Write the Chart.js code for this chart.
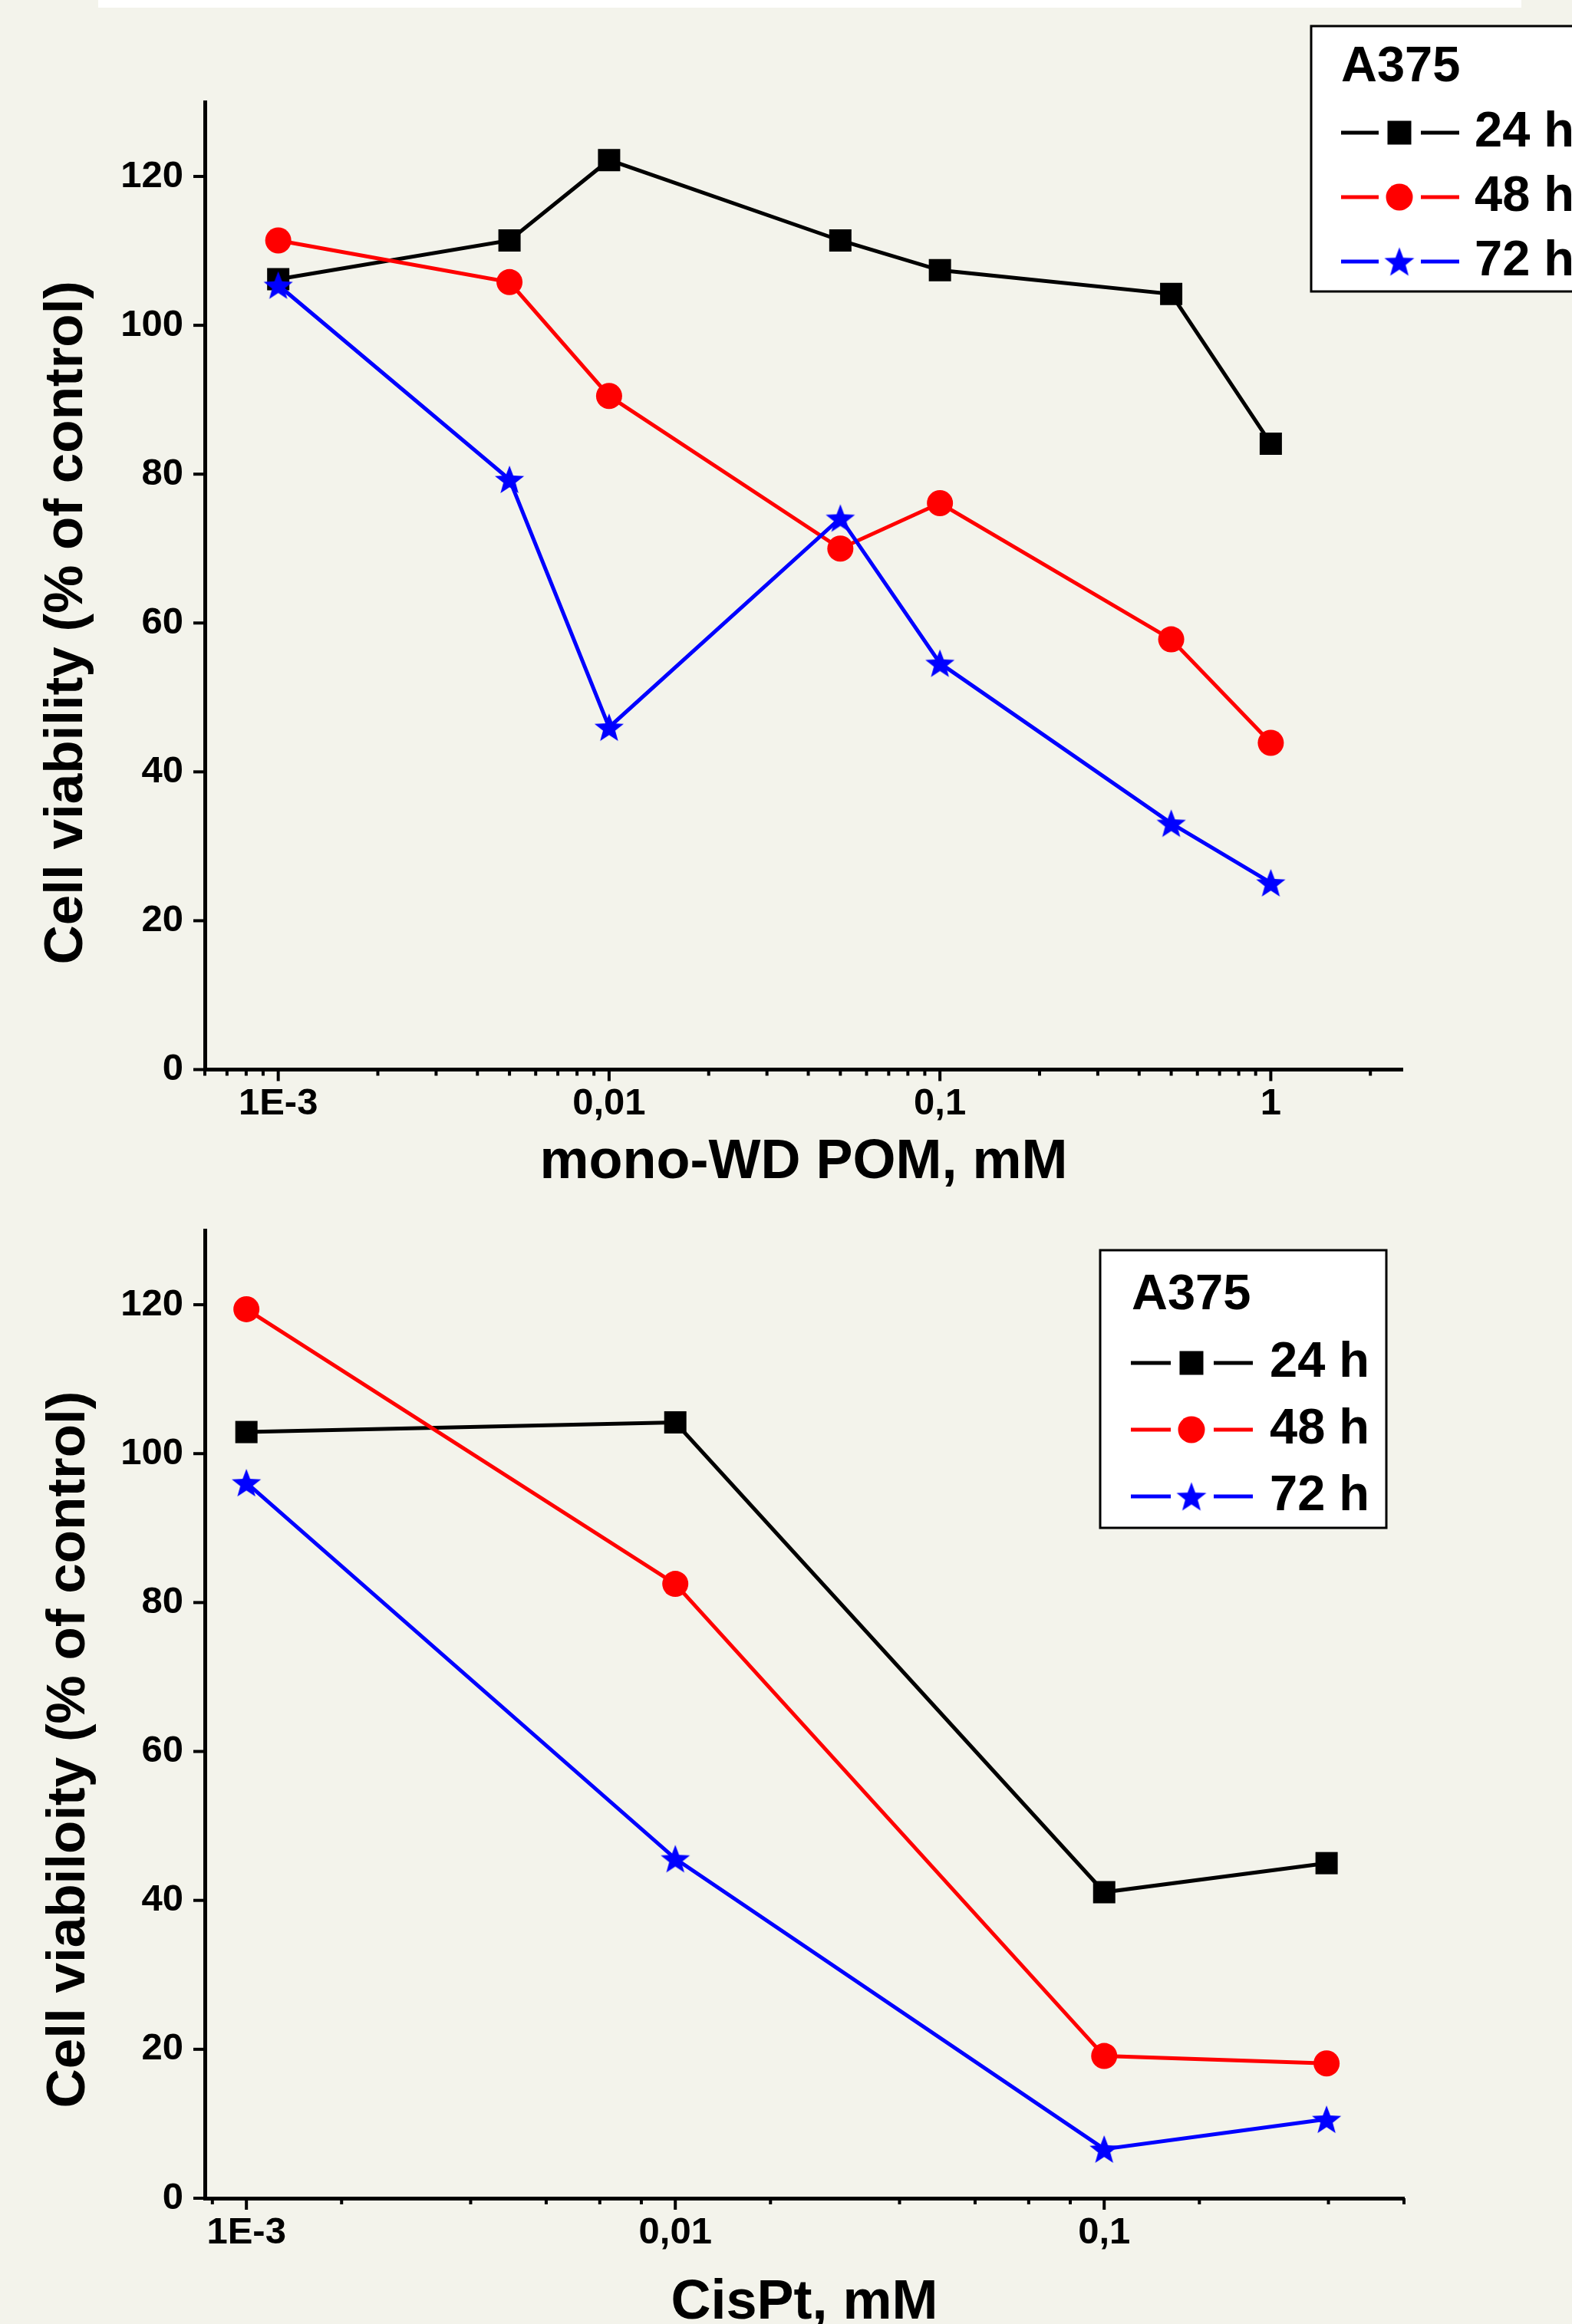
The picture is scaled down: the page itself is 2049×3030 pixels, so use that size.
<!DOCTYPE html>
<html>
<head>
<meta charset="utf-8">
<script src="https://cdn.jsdelivr.net/npm/chart.js@4.4.1/dist/chart.umd.min.js"></script>
<style>
html,body{margin:0;padding:0;background:#f3f3eb;width:2049px;height:3030px;overflow:hidden;}
#band{position:absolute;left:128px;top:0;width:1855px;height:10px;background:#ffffff;}
#c1{position:absolute;left:0;top:0;}
#c2{position:absolute;left:0;top:1500px;}
</style>
</head>
<body>
<div id="band"></div>
<canvas id="c1" width="2049" height="1580"></canvas>
<canvas id="c2" width="2049" height="1600"></canvas>
<script>
// ---------- data ----------
const pomConc = [0.001, 0.005, 0.01, 0.05, 0.1, 0.5, 1];
const pom24h  = [106.2, 111.4, 122.2, 111.4, 107.4, 104.2, 84.1];
const pom48h  = [111.4, 105.8, 90.5, 70.0, 76.1, 57.8, 43.9];
const pom72h  = [105.4, 79.3, 46.0, 74.1, 54.6, 33.1, 25.1];

const cisConc = [0.001, 0.01, 0.1, 0.33];
const cis24h  = [102.9, 104.2, 41.1, 45.0];
const cis48h  = [119.4, 82.5, 19.1, 18.1];
const cis72h  = [96.1, 45.6, 6.6, 10.6];

const seriesLabels = ['24 h', '48 h', '72 h'];
const legendTitle = 'A375';

const yTickValues = [0, 20, 40, 60, 80, 100, 120];

const pomMajorTicks  = [0.001, 0.01, 0.1, 1];
const pomMajorLabels = ['1E-3', '0,01', '0,1', '1'];
const pomMinorTicks  = [0.0006, 0.0007, 0.0008, 0.0009,
  0.002, 0.003, 0.004, 0.005, 0.006, 0.007, 0.008, 0.009,
  0.02, 0.03, 0.04, 0.05, 0.06, 0.07, 0.08, 0.09,
  0.2, 0.3, 0.4, 0.5, 0.6, 0.7, 0.8, 0.9, 2];

const cisMajorTicks  = [0.001, 0.01, 0.1];
const cisMajorLabels = ['1E-3', '0,01', '0,1'];
const cisMinorTicks  = [0.000833, 0.001667, 0.003333, 0.005, 0.006667, 0.008333,
  0.01667, 0.03333, 0.05, 0.06667, 0.08333, 0.1667, 0.3333, 0.5];

// ---------- styling helpers ----------
const FAMILY = "'Liberation Sans', Arial, Helvetica, sans-serif";

function makeStar(size, color) {
  const c = document.createElement('canvas');
  c.width = size; c.height = size;
  const g = c.getContext('2d');
  const R = size / 2, r = R * 0.42;
  const cx = size / 2, cy = size / 2 + R * 0.0955;
  g.beginPath();
  for (let i = 0; i < 10; i++) {
    const a = -Math.PI / 2 + i * Math.PI / 5;
    const rr = (i % 2 === 0) ? R : r;
    const px = cx + rr * Math.cos(a), py = cy + rr * Math.sin(a);
    if (i === 0) g.moveTo(px, py); else g.lineTo(px, py);
  }
  g.closePath();
  g.fillStyle = color;
  g.fill();
  return c;
}
const starPlot = makeStar(40, '#0000ff');
const starLegend = makeStar(41, '#0000ff');

function drawMarker(ctx, kind, x, y, color) {
  ctx.fillStyle = color;
  if (kind === 'rect') {
    ctx.fillRect(x - 15.5, y - 15.5, 31, 31);
  } else if (kind === 'circle') {
    ctx.beginPath(); ctx.arc(x, y, 17.5, 0, Math.PI * 2); ctx.fill();
  } else {
    ctx.drawImage(starLegend, x - starLegend.width / 2, y - starLegend.height / 2);
  }
}

const boxLegend = {
  id: 'boxLegend',
  afterDraw(chart, args, o) {
    const ctx = chart.ctx;
    ctx.save();
    ctx.fillStyle = '#ffffff';
    ctx.fillRect(o.x, o.y, o.w, o.h);
    ctx.lineWidth = 3; ctx.strokeStyle = '#000';
    ctx.strokeRect(o.x, o.y, o.w, o.h);
    ctx.font = 'bold 65px ' + FAMILY;
    ctx.textBaseline = 'middle'; ctx.textAlign = 'left';
    ctx.fillStyle = '#000';
    ctx.fillText(o.title, o.x + o.titleDx, o.y + o.titleDy);
    chart.data.datasets.forEach((ds, i) => {
      const cy = o.y + o.rowDy[i];
      ctx.strokeStyle = ds.borderColor; ctx.lineWidth = 5; ctx.lineCap = 'butt';
      ctx.beginPath();
      ctx.moveTo(o.x + o.line1[0], cy); ctx.lineTo(o.x + o.line1[1], cy);
      ctx.moveTo(o.x + o.line2[0], cy); ctx.lineTo(o.x + o.line2[1], cy);
      ctx.stroke();
      drawMarker(ctx, ds.legendMarker, o.x + o.markDx, cy, ds.borderColor);
      ctx.fillStyle = '#000';
      ctx.fillText(ds.label, o.x + o.textDx, cy);
    });
    ctx.restore();
  }
};

const tickMarks = {
  id: 'tickMarks',
  afterDraw(chart) {
    const ctx = chart.ctx, xs = chart.scales.x, ys = chart.scales.y;
    ctx.save();
    ctx.strokeStyle = '#000'; ctx.lineWidth = 4; ctx.lineCap = 'butt';
    xs.ticks.forEach(t => {
      const px = xs.getPixelForValue(t.value);
      const len = t.isMajor ? 15 : 8;
      ctx.beginPath(); ctx.moveTo(px, xs.top); ctx.lineTo(px, xs.top + len); ctx.stroke();
    });
    ys.ticks.forEach(t => {
      const py = ys.getPixelForValue(t.value);
      ctx.beginPath(); ctx.moveTo(ys.right, py); ctx.lineTo(ys.right - 15, py); ctx.stroke();
    });
    ctx.restore();
  }
};

const yTitle = {
  id: 'yTitle',
  afterDraw(chart, args, o) {
    const ctx = chart.ctx, a = chart.chartArea;
    ctx.save();
    ctx.translate(o.x, (a.top + a.bottom) / 2 + o.dy);
    ctx.rotate(-Math.PI / 2);
    ctx.font = 'bold 71px ' + FAMILY;
    ctx.fillStyle = '#000';
    ctx.textAlign = 'center'; ctx.textBaseline = 'alphabetic';
    ctx.fillText(o.text, 0, 0);
    ctx.restore();
  }
};

function sameVal(a, b) { return Math.abs(Math.log10(a) - Math.log10(b)) < 1e-6; }

function makeDatasets(conc, s24, s48, s72) {
  const pts = arr => conc.map((x, i) => ({ x: x, y: arr[i] }));
  return [
    { label: seriesLabels[0], data: pts(s24), borderColor: '#000000', backgroundColor: '#000000',
      borderWidth: 5, pointStyle: 'rect', pointRadius: 20.5, pointBorderWidth: 0, order: 3, legendMarker: 'rect' },
    { label: seriesLabels[1], data: pts(s48), borderColor: '#ff0000', backgroundColor: '#ff0000',
      borderWidth: 5, pointStyle: 'circle', pointRadius: 17, pointBorderWidth: 0, order: 2, legendMarker: 'circle' },
    { label: seriesLabels[2], data: pts(s72), borderColor: '#0000ff', backgroundColor: '#0000ff',
      borderWidth: 5, pointStyle: starPlot, pointRadius: 20, pointBorderWidth: 0, order: 1, legendMarker: 'star' }
  ];
}

function makeConfig(p) {
  return {
    type: 'line',
    data: { datasets: makeDatasets(p.conc, p.s24, p.s48, p.s72) },
    options: {
      responsive: false, animation: false, devicePixelRatio: 1, events: [],
      layout: { padding: p.padding },
      elements: { line: { tension: 0 } },
      plugins: {
        legend: { display: false }, tooltip: { enabled: false },
        boxLegend: p.legend,
        yTitle: p.yTitle
      },
      scales: {
        x: {
          type: 'logarithmic', min: p.xmin, max: p.xmax,
          afterBuildTicks: s => {
            const t = p.major.map(v => ({ value: v, isMajor: true }))
              .concat(p.minor.map(v => ({ value: v, isMajor: false })));
            t.sort((a, b) => a.value - b.value);
            s.ticks = t;
          },
          afterFit: s => { s.height = p.xHeight; },
          grid: { display: true, drawOnChartArea: false, drawTicks: false },
          border: { display: true, color: '#000', width: 5 },
          ticks: {
            autoSkip: false, maxRotation: 0, minRotation: 0, padding: 16, color: '#000',
            font: { family: FAMILY, size: 49, weight: 'bold', lineHeight: 1.2 },
            callback: v => {
              const i = p.major.findIndex(m => sameVal(m, v));
              return i >= 0 ? p.majorLabels[i] : '';
            }
          },
          title: { display: true, text: p.xTitle, color: '#000',
            font: { family: FAMILY, size: 72, weight: 'bold', lineHeight: 1.2 },
            padding: { top: 0, bottom: p.xTitlePad } }
        },
        y: {
          type: 'linear', min: 0, max: 130,
          afterBuildTicks: s => { s.ticks = yTickValues.map(v => ({ value: v })); },
          afterFit: s => { s.width = 267; },
          grid: { display: true, drawOnChartArea: false, drawTicks: false },
          border: { display: true, color: '#000', width: 5 },
          ticks: { padding: 28, color: '#000',
            font: { family: FAMILY, size: 49, weight: 'bold', lineHeight: 1.2 },
            callback: v => String(v) }
        }
      }
    },
    plugins: [tickMarks, yTitle, boxLegend]
  };
}

new Chart(document.getElementById('c1'), makeConfig({
  conc: pomConc, s24: pom24h, s48: pom48h, s72: pom72h,
  xmin: 0.0006, xmax: 2.5,
  major: pomMajorTicks, majorLabels: pomMajorLabels, minor: pomMinorTicks,
  xTitle: 'mono-WD POM, mM', xHeight: 175.5, xTitlePad: 10.8,
  padding: { left: 0, top: 133, right: 221, bottom: 10 },
  yTitle: { text: 'Cell viability (% of control)', x: 107, dy: 48 },
  legend: { x: 1709, y: 34, w: 400, h: 346, title: legendTitle, titleDx: 39, titleDy: 54.5,
    rowDy: [139, 223, 307], line1: [39, 88], line2: [143, 193], markDx: 115, textDx: 213 }
}));

new Chart(document.getElementById('c2'), makeConfig({
  conc: cisConc, s24: cis24h, s48: cis48h, s72: cis72h,
  xmin: 0.0008, xmax: 0.5,
  major: cisMajorTicks, majorLabels: cisMajorLabels, minor: cisMinorTicks,
  xTitle: 'CisPt, mM', xHeight: 200, xTitlePad: 19.8,
  padding: { left: 0, top: 104, right: 219, bottom: 34 },
  yTitle: { text: 'Cell viabiloity (% of control)', x: 110, dy: 46 },
  legend: { x: 1434, y: 130, w: 373, h: 362, title: legendTitle, titleDx: 41, titleDy: 59,
    rowDy: [147, 234, 321], line1: [40, 92], line2: [148, 199], markDx: 119, textDx: 221 }
}));
</script>
</body>
</html>
